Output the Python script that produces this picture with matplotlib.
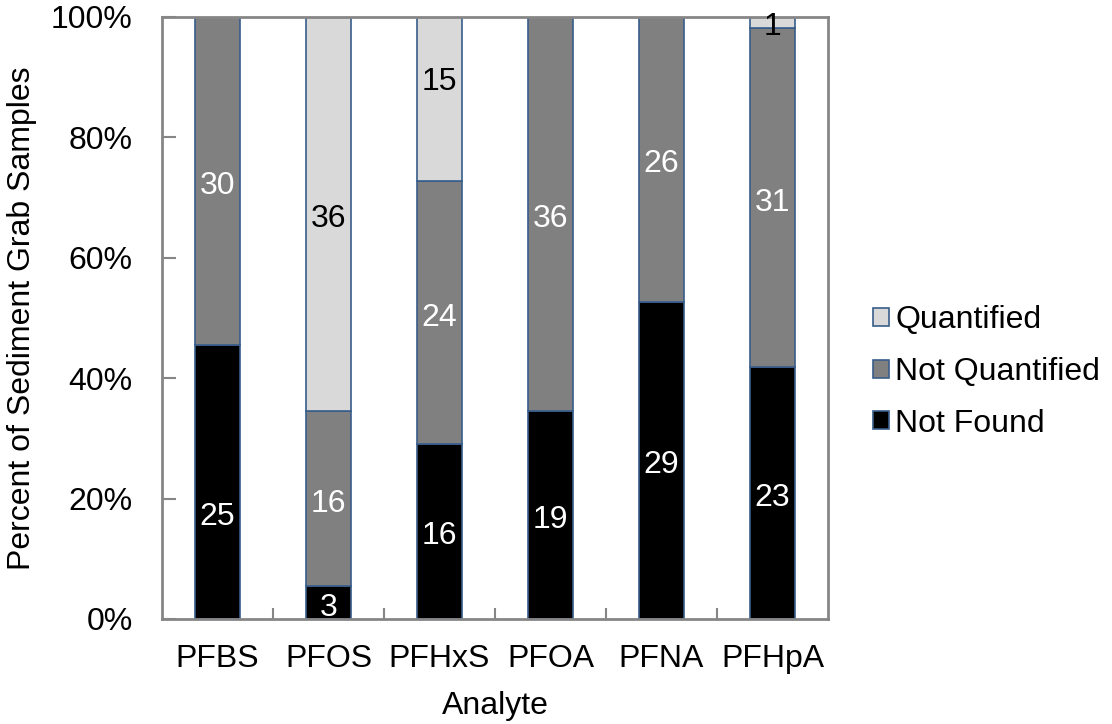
import numpy as np
import matplotlib
matplotlib.use('Agg')
import matplotlib.pyplot as plt

plt.rcParams['font.family'] = ['Liberation Sans', 'DejaVu Sans']
plt.rcParams['font.size'] = 23

# Sample counts per analyte
analytes = ['PFBS', 'PFOS', 'PFHxS', 'PFOA', 'PFNA', 'PFHpA']
not_found = [25, 3, 16, 19, 29, 23]
not_quantified = [30, 16, 24, 36, 26, 31]
quantified = [0, 36, 15, 0, 0, 1]

series = [
    ('Not Found', not_found, '#000000', 'white'),
    ('Not Quantified', not_quantified, '#808080', 'white'),
    ('Quantified', quantified, '#d9d9d9', 'black'),
]

# labels that were moved by hand in the original (series, analyte) -> pixels
nudge = {('Not Found', 'PFBS'): -30, ('Quantified', 'PFHxS'): 22}

totals = np.array(not_found) + np.array(not_quantified) + np.array(quantified)

fig = plt.figure(figsize=(11.12, 7.24), dpi=100)
ax = fig.add_axes([162 / 1112, 105 / 724, 666 / 1112, 602 / 724])

x = np.arange(len(analytes))
bottom = np.zeros(len(analytes))
handles = []
for name, vals, color, txtcolor in series:
    pct = np.array(vals) / totals * 100
    bars = ax.bar(x, pct, width=0.4, bottom=bottom, color=color,
                  edgecolor='#385d8a', linewidth=1.2, label=name)
    handles.append(bars)
    for xi, b, p, v, a in zip(x, bottom, pct, vals, analytes):
        if v > 0:
            dy = -5 + nudge.get((name, a), 0)
            ax.annotate(str(v), (xi, b + p / 2), xytext=(0, dy),
                        textcoords='offset pixels', ha='center', va='center',
                        color=txtcolor, fontsize=23)
    bottom += pct

ax.set_xlim(-0.5, len(analytes) - 0.5)
ax.set_ylim(0, 100)
ax.set_yticks(np.arange(0, 101, 20))
ax.set_yticklabels([f'{v}%' for v in range(0, 101, 20)])
ax.set_xticks(x)
ax.set_xticklabels(analytes)
ax.set_xticks(np.arange(0.5, len(analytes) - 0.5, 1), minor=True)

ax.tick_params(axis='y', direction='in', length=10, width=1.5,
               color='#868686', pad=21)
ax.tick_params(axis='x', which='major', length=0, pad=18)
ax.tick_params(axis='x', which='minor', direction='in', length=8,
               width=1.5, color='#868686')
for sp in ax.spines.values():
    sp.set_color('#868686')
    sp.set_linewidth(2)

ax.set_ylabel('Percent of Sediment Grab Samples', labelpad=10)
ax.set_xlabel('Analyte', labelpad=12)

fig.legend(handles[::-1], [s[0] for s in series][::-1],
           loc='center left', bbox_to_anchor=(857 / 1112, 1 - 372 / 724),
           frameon=False, fontsize=23, handlelength=0.5, handleheight=0.5,
           handletextpad=0.2, labelspacing=0.68, borderpad=0)

fig.savefig('out.png', dpi=100)
